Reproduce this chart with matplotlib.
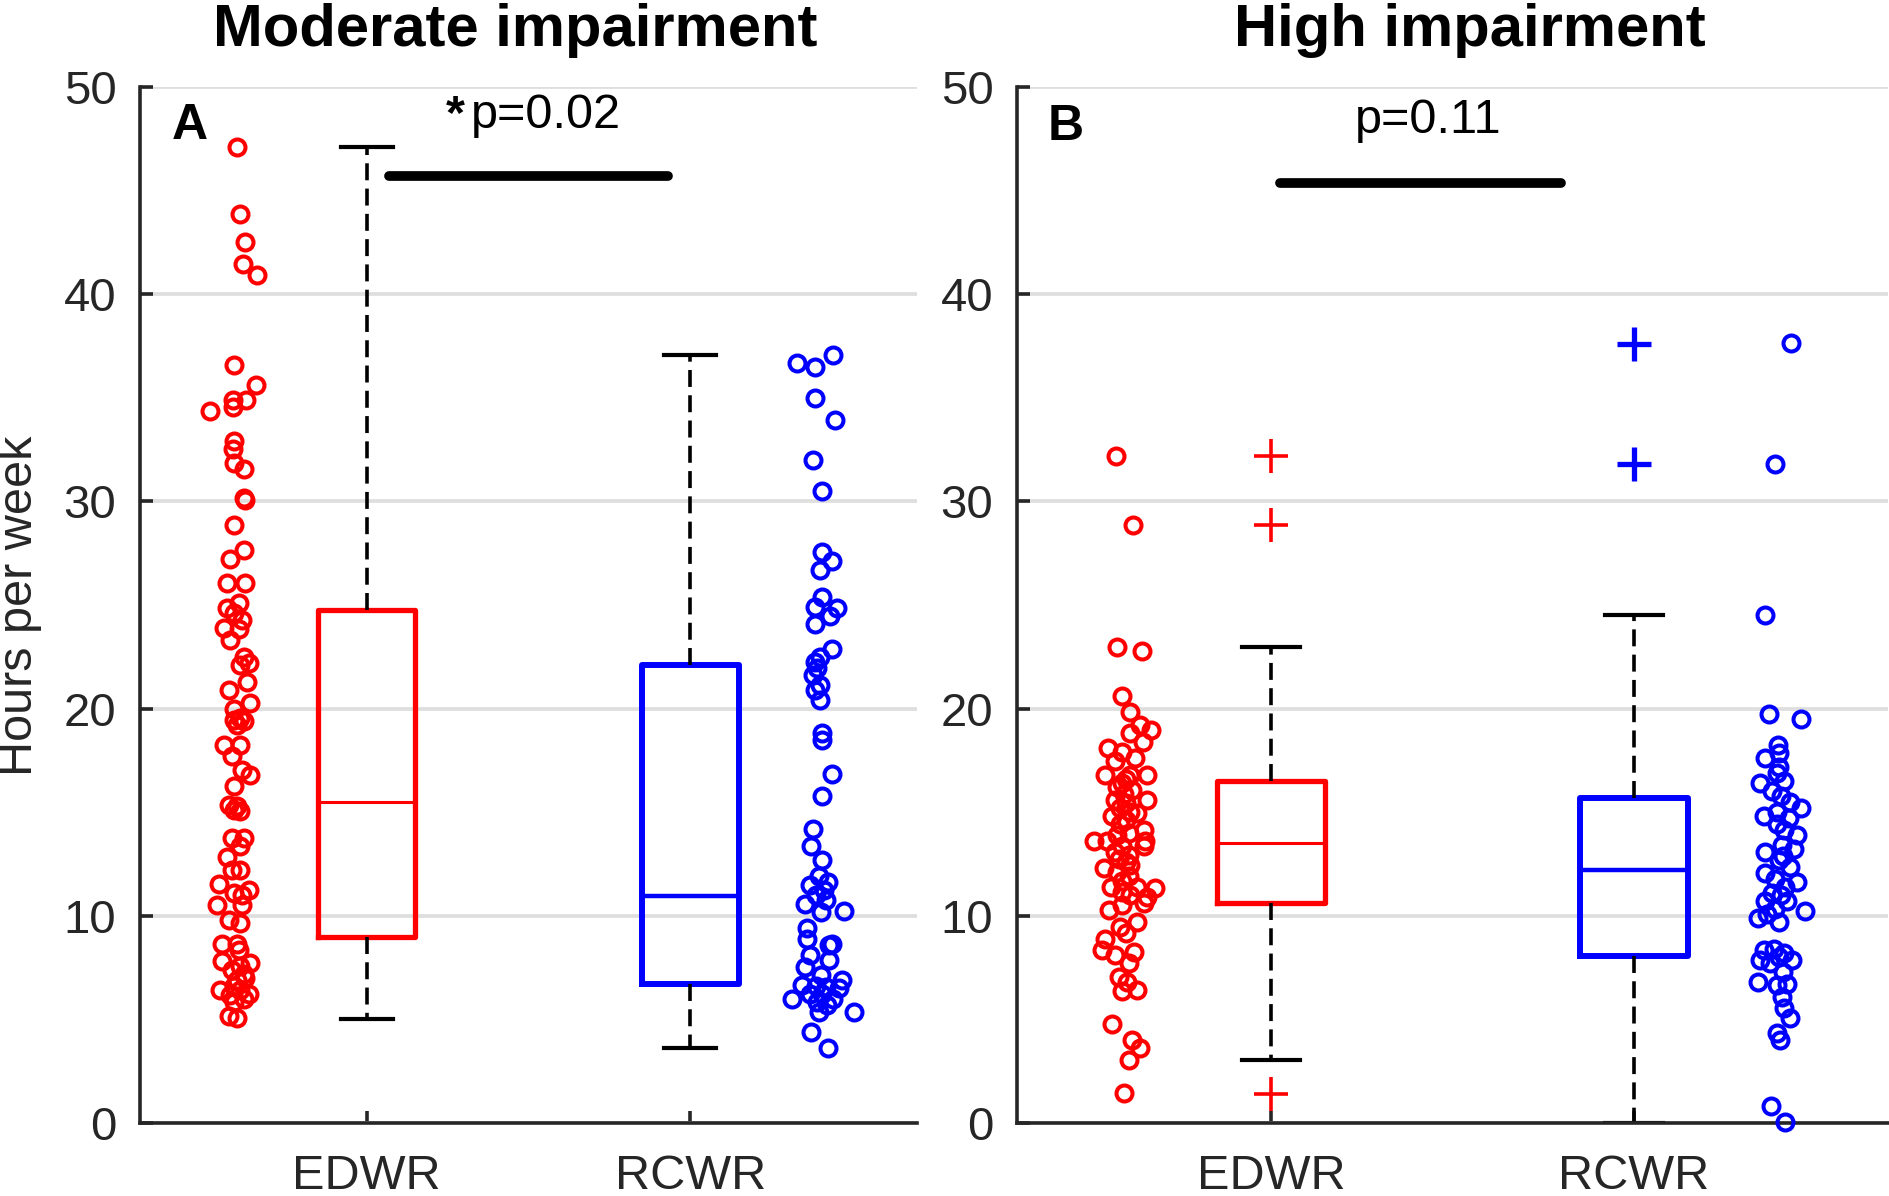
import matplotlib.pyplot as plt

plt.rcParams['font.family'] = ['Liberation Sans', 'DejaVu Sans']

groups = ['EDWR', 'RCWR']
titles = ['Moderate impairment', 'High impairment']
letters = ['A', 'B']
p_texts = ['p=0.02', 'p=0.11']
p_stars = ['*', '']

# box summaries: q1, median, q3, lower whisker, upper whisker
mod_edwr_box = [9.0, 15.5, 24.75, 5.0, 47.1]
mod_rcwr_box = [6.7, 10.95, 22.1, 3.6, 37.05]
high_edwr_box = [10.6, 13.5, 16.5, 3.05, 22.95]
high_rcwr_box = [8.05, 12.2, 15.7, 0.0, 24.5]

mod_edwr_out = []
mod_rcwr_out = []
high_edwr_out = [32.2, 28.85, 1.4]
high_rcwr_out = [37.6, 31.8]

# individual subjects (hours per week) and their jittered x positions
mod_edwr_y = [47.1, 43.85, 42.5, 41.45, 40.95, 36.6, 35.6, 34.9, 34.9, 34.55,
              34.35, 32.9, 32.55, 31.85, 31.55, 30.15, 30.05, 28.85, 27.65, 27.2,
              26.05, 26.05, 25.1, 24.85, 24.6, 24.3, 23.9, 23.85, 23.3, 22.5,
              22.2, 22.1, 21.3, 20.9, 20.25, 20.0, 19.55, 19.45, 19.4, 19.2,
              18.25, 18.25, 17.7, 17.05, 16.8, 16.25, 15.35, 15.3, 15.05, 15.1,
              13.75, 13.75, 13.35, 12.85, 12.2, 12.2, 11.55, 11.25, 11.1, 11.0,
              10.5, 10.5, 9.8, 9.65, 8.65, 8.65, 8.35, 7.8, 7.7, 7.6,
              7.2, 6.9, 6.4, 6.25, 6.2, 6.4, 5.85, 5.15, 5.05, 7.0,
              6.6, 7.4, 6.0]
mod_edwr_x = [.600, .608, .623, .617, .662, .589, .659, .628, .587, .587,
              .517, .589, .586, .589, .622, .622, .624, .589, .620, .577,
              .570, .624, .605, .569, .589, .615, .558, .605, .579, .620,
              .636, .610, .631, .574, .641, .589, .610, .589, .620, .600,
              .558, .610, .584, .615, .641, .589, .574, .600, .610, .590,
              .584, .620, .610, .569, .584, .610, .543, .636, .590, .615,
              .538, .615, .574, .610, .553, .600, .605, .553, .641, .610,
              .620, .600, .548, .636, .579, .610, .590, .574, .600, .625,
              .590, .585, .620]

mod_rcwr_y = [37.05, 36.7, 36.5, 35.0, 33.95, 32.0, 30.5, 27.55, 27.1, 26.7,
              25.4, 24.9, 24.85, 24.45, 24.1, 22.9, 22.5, 22.25, 21.95, 21.6,
              21.15, 20.9, 20.4, 18.8, 18.5, 16.85, 15.8, 14.2, 13.35, 12.7,
              11.9, 11.65, 11.5, 11.25, 11.0, 10.75, 10.55, 10.2, 10.25, 9.4,
              8.9, 8.65, 8.6, 8.1, 7.85, 7.55, 7.15, 6.9, 6.65, 6.6,
              6.55, 6.5, 6.25, 6.25, 6.0, 6.0, 5.85, 5.7, 5.35, 5.35,
              4.4, 3.6]
mod_rcwr_x = [2.442, 2.328, 2.385, 2.385, 2.447, 2.380, 2.408, 2.408, 2.437, 2.400,
              2.408, 2.385, 2.452, 2.431, 2.385, 2.437, 2.400, 2.385, 2.390, 2.380,
              2.400, 2.385, 2.400, 2.408, 2.408, 2.437, 2.408, 2.380, 2.372, 2.408,
              2.397, 2.426, 2.370, 2.413, 2.387, 2.418, 2.354, 2.403, 2.473, 2.359,
              2.359, 2.437, 2.428, 2.370, 2.428, 2.354, 2.403, 2.467, 2.344, 2.387,
              2.418, 2.459, 2.370, 2.408, 2.313, 2.439, 2.392, 2.423, 2.397, 2.504,
              2.372, 2.426]

high_edwr_y = [32.2, 28.85, 22.95, 22.8, 20.6, 19.85, 19.2, 18.95, 18.8, 18.4,
               18.1, 17.9, 17.6, 17.45, 16.8, 16.8, 16.8, 16.4, 16.05, 15.6,
               15.6, 15.45, 14.95, 14.8, 14.45, 14.15, 14.0, 13.6, 13.6, 13.6,
               13.35, 13.35, 12.95, 12.75, 12.45, 12.3, 12.1, 11.9, 11.4, 11.4,
               11.35, 11.15, 10.9, 10.6, 10.3, 10.5, 9.7, 9.45, 9.15, 8.9,
               8.35, 8.25, 8.1, 7.7, 7.05, 6.8, 6.35, 6.4, 4.8, 4.0,
               3.6, 3.05, 1.45, 16.6, 16.2, 15.9, 15.2, 15.0, 14.6, 13.9,
               13.1, 12.6, 11.7, 11.0]
high_edwr_x = [.573, .619, .575, .644, .589, .612, .640, .668, .612, .647,
               .552, .589, .626, .571, .543, .610, .658, .589, .617, .658,
               .571, .599, .631, .562, .585, .649, .608, .511, .548, .652,
               .589, .649, .608, .580, .612, .539, .576, .608, .558, .631,
               .681, .589, .658, .649, .553, .589, .631, .585, .599, .543,
               .534, .622, .571, .608, .580, .603, .589, .631, .562, .617,
               .640, .608, .594, .600, .575, .595, .585, .610, .600, .575,
               .570, .600, .590, .610]

high_rcwr_y = [37.65, 31.8, 24.5, 19.75, 19.5, 18.25, 17.85, 17.6, 16.9, 16.4,
               16.5, 16.0, 15.5, 15.2, 14.8, 14.7, 14.45, 14.15, 13.9, 13.4,
               13.2, 13.1, 12.7, 12.35, 12.05, 11.8, 11.65, 11.4, 11.1, 10.7,
               10.7, 10.35, 10.25, 10.1, 9.9, 9.7, 8.4, 8.35, 8.2, 7.85,
               7.85, 7.7, 6.8, 6.65, 6.7, 6.1, 5.55, 5.05, 4.35, 4.0,
               0.8, 0.05, 17.2, 15.8, 15.0, 12.9, 11.0, 8.0, 7.3]
high_rcwr_x = [2.433, 2.390, 2.362, 2.371, 2.459, 2.396, 2.399, 2.362, 2.394, 2.348,
               2.413, 2.380, 2.431, 2.459, 2.357, 2.426, 2.394, 2.413, 2.449, 2.408,
               2.440, 2.362, 2.399, 2.431, 2.362, 2.389, 2.449, 2.417, 2.380, 2.362,
               2.422, 2.389, 2.472, 2.366, 2.343, 2.399, 2.385, 2.357, 2.413, 2.436,
               2.348, 2.375, 2.343, 2.394, 2.422, 2.408, 2.413, 2.431, 2.394, 2.403,
               2.377, 2.417, 2.400, 2.405, 2.395, 2.410, 2.405, 2.400, 2.410]

# significance bars: x start, x end, height
mod_bar = [1.07, 1.93, 45.7]
high_bar = [1.025, 1.80, 45.35]

RED = '#ff0000'
BLUE = '#0000ff'
AXC = '#262626'

fig = plt.figure(figsize=(18.9, 11.96), dpi=100)
ax_a = fig.add_axes([140 / 1890, 73 / 1196, 777 / 1890, 1036 / 1196])
ax_b = fig.add_axes([1017 / 1890, 73 / 1196, 871 / 1890, 1036 / 1196])

panels = [
    (ax_a, [mod_edwr_box, mod_rcwr_box], [mod_edwr_out, mod_rcwr_out],
     [(mod_edwr_x, mod_edwr_y), (mod_rcwr_x, mod_rcwr_y)], mod_bar),
    (ax_b, [high_edwr_box, high_rcwr_box], [high_edwr_out, high_rcwr_out],
     [(high_edwr_x, high_edwr_y), (high_rcwr_x, high_rcwr_y)], high_bar),
]

title_x = [0.4826, 0.5195]
letter_pos = [(0.455, 48.1), (0.434, 48.05)]
ptext_pos = [(1.322, 48.0), (1.232, 47.76)]

for i, (ax, boxes, outs, pts, bar) in enumerate(panels):
    for j, col in enumerate([RED, BLUE]):
        q1, med, q3, lo, hi = boxes[j]
        stats = [dict(med=med, q1=q1, q3=q3, whislo=lo, whishi=hi, fliers=outs[j])]
        box_lw = 3.8 if col == RED else 4.3
        ax.bxp(stats, positions=[j + 1], widths=0.3, capwidths=0.16,
               manage_ticks=False,
               boxprops=dict(color=col, linewidth=box_lw),
               medianprops=dict(color=col, linewidth=2.2 if col == RED else 3.2),
               whiskerprops=dict(color='black', linewidth=2.6, linestyle=(0, (4.7, 2.3))),
               capprops=dict(color='black', linewidth=3.0),
               flierprops=dict(marker='+', markersize=24, markeredgecolor=col,
                               markeredgewidth=2.6 if col == RED else 3.8,
                               linestyle='none'))
        xs, ys = pts[j]
        ax.plot(xs, ys, 'o', markersize=11.5, markerfacecolor='none',
                markeredgecolor=col, markeredgewidth=2.9, clip_on=False, zorder=3)

    ax.plot(bar[:2], [bar[2], bar[2]], color='black', linewidth=7,
            solid_capstyle='round')
    ax.text(ptext_pos[i][0], ptext_pos[i][1], p_texts[i], fontsize=35,
            ha='left', va='baseline')
    if p_stars[i]:
        ax.text(ptext_pos[i][0] - 0.02, ptext_pos[i][1], p_stars[i], fontsize=35,
                fontweight='bold', ha='right', va='baseline')
    ax.text(letter_pos[i][0], letter_pos[i][1], letters[i], fontsize=36,
            fontweight='bold', ha='center', va='center')
    ax.set_title(titles[i], fontsize=43, fontweight='bold', pad=29.5, x=title_x[i])

    ax.set_xlim(0.3, 2.7)
    ax.set_ylim(0, 50)
    ax.set_xticks([1, 2])
    ax.set_xticklabels(groups)
    ax.set_yticks([0, 10, 20, 30, 40, 50])
    ax.tick_params(axis='x', direction='in', length=9, width=2.6, colors=AXC,
                   labelsize=35, pad=22)
    ax.tick_params(axis='y', direction='in', length=9, width=2.6, colors=AXC,
                   labelsize=34, pad=17)
    ax.grid(axis='y', color='#dedede', linewidth=2.7)
    ax.set_axisbelow(True)
    for side in ['top', 'right']:
        ax.spines[side].set_visible(False)
    for side in ['left', 'bottom']:
        ax.spines[side].set_color(AXC)
        ax.spines[side].set_linewidth(2.6)

fig.text(19.6 / 1890, 1 - 605.6 / 1196, 'Hours per week', fontsize=35,
         rotation=90, ha='center', va='center', color=AXC)

fig.savefig('out.png', dpi=100)
